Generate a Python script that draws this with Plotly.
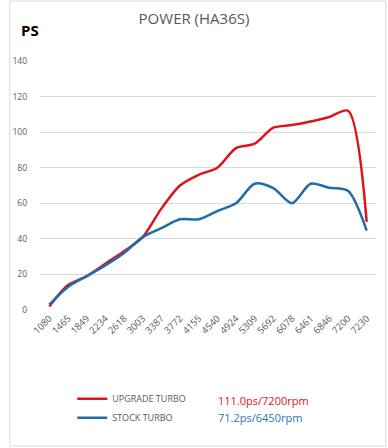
import plotly.graph_objects as go

rpm = ["1080", "1465", "1849", "2234", "2618", "3003", "3387", "3772", "4155",
       "4540", "4924", "5309", "5692", "6078", "6461", "6846", "7200", "7230"]
upgrade = [2, 14, 19, 26, 33, 41, 57, 70, 76, 80, 91, 93.5, 102.5, 104, 106, 108.5, 112, 49.5]
stock = [3, 13, 19, 25, 32, 41, 46, 51, 51, 55.6, 60, 71, 68.5, 60, 71, 68.7, 67, 44.6]
y_ticks = [0, 20, 40, 60, 80, 100, 120, 140]

RED = "#DD1318"
BLUE = "#1F6BAE"
GREY = "#595959"
FONT = "Open Sans"

fig = go.Figure()
fig.add_trace(go.Scatter(x=rpm, y=upgrade, mode="lines", name="UPGRADE TURBO",
                         line=dict(color=RED, width=2.5, shape="spline", smoothing=0.8)))
fig.add_trace(go.Scatter(x=rpm, y=stock, mode="lines", name="STOCK TURBO",
                         line=dict(color=BLUE, width=2.5, shape="spline", smoothing=0.8)))

fig.update_layout(
    width=388, height=448,
    margin=dict(l=32, r=12, t=61, b=138),
    paper_bgcolor="white", plot_bgcolor="white",
    font=dict(family=FONT, color=GREY),
    title=dict(text="POWER (HA36S)", x=0.5, xanchor="center", y=1 - 19 / 448, yanchor="middle",
               xref="container", font=dict(size=15, color=GREY, family=FONT)),
    showlegend=True,
    legend=dict(x=(65 - 32) / 344, y=-0.298, xanchor="left", yanchor="top",
                font=dict(size=9, color=GREY, family=FONT),
                itemwidth=30, tracegroupgap=0, bgcolor="rgba(0,0,0,0)"),
    xaxis=dict(type="category", range=[-0.5, 17.5], tickangle=-45,
               tickfont=dict(size=9.5, color=GREY),
               showgrid=False, showline=False, ticks="", zeroline=False),
    yaxis=dict(range=[0, 140], tickvals=y_ticks, tickfont=dict(size=8.5, color=GREY),
               showgrid=True, gridcolor="#D9D9D9", gridwidth=1, zeroline=False,
               showline=False, ticks="", ticklabelstandoff=12),
)

fig.add_annotation(text="<b>PS</b>", xref="paper", yref="paper",
                   x=(11 - 32) / 344, y=(310 - 30) / 249, xanchor="left", yanchor="middle",
                   showarrow=False, font=dict(size=15, color="black", family=FONT))
fig.add_annotation(text="111.0ps/7200rpm", xref="paper", yref="paper",
                   x=(212 - 32) / 344, y=(310 - 400) / 249, xanchor="left", yanchor="middle",
                   showarrow=False, font=dict(size=11, color=RED, family=FONT))
fig.add_annotation(text="71.2ps/6450rpm", xref="paper", yref="paper",
                   x=(212 - 32) / 344, y=(310 - 417) / 249, xanchor="left", yanchor="middle",
                   showarrow=False, font=dict(size=11, color="#2E75B6", family=FONT))

fig.add_shape(type="rect", xref="paper", yref="paper",
              x0=(1 - 32) / 344, x1=(386 - 32) / 344,
              y0=(310 - 446) / 249, y1=(310 - 1) / 249,
              line=dict(color="#D9D9D9", width=1), fillcolor="rgba(0,0,0,0)", layer="below")

fig.write_html("out.html", post_script="document.body.style.margin='0';",
               config={"displayModeBar": False})
